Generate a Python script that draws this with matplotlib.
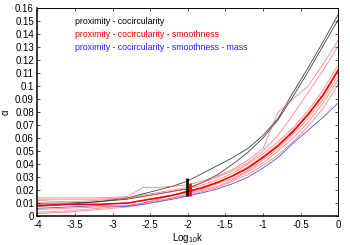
import matplotlib

matplotlib.use("Agg")
import matplotlib.pyplot as plt
from matplotlib.ticker import FuncFormatter, MultipleLocator


# log10(k) sample points shared by every run
LOG_K = [-4.0, -3.6, -3.2, -2.8, -2.6, -2.4, -2.2, -2.0, -1.8,
         -1.6, -1.4, -1.2, -1.0, -0.8, -0.6, -0.4, -0.2, 0.0]

# proximity - cocircularity runs
PROX_COCIRC = [
    [0.0075, 0.009, 0.011, 0.014, 0.017, 0.020, 0.023, 0.027, 0.033,
     0.039, 0.045, 0.052, 0.062, 0.075, 0.095, 0.114, 0.134, 0.155],
    [0.010, 0.010, 0.011, 0.013, 0.015, 0.017, 0.019, 0.021, 0.026,
     0.032, 0.040, 0.049, 0.060, 0.074, 0.092, 0.111, 0.131, 0.151],
]

# proximity - cocircularity - smoothness runs
PROX_COCIRC_SMOOTH = [
    [0.014, 0.014, 0.014, 0.015, 0.022, 0.022, 0.023, 0.024, 0.027,
     0.031, 0.036, 0.043, 0.052, 0.080, 0.090, 0.100, 0.117, 0.135],
    [0.012, 0.011, 0.012, 0.014, 0.016, 0.018, 0.020, 0.022, 0.026,
     0.030, 0.035, 0.041, 0.050, 0.062, 0.078, 0.095, 0.112, 0.131],
    [0.013, 0.013, 0.013, 0.014, 0.015, 0.017, 0.019, 0.021, 0.024,
     0.028, 0.033, 0.040, 0.048, 0.057, 0.068, 0.081, 0.097, 0.116],
    [0.003, 0.004, 0.006, 0.008, 0.010, 0.013, 0.016, 0.019, 0.022,
     0.026, 0.031, 0.038, 0.046, 0.055, 0.066, 0.079, 0.094, 0.113],
    [0.009, 0.009, 0.009, 0.010, 0.012, 0.014, 0.016, 0.018, 0.021,
     0.025, 0.029, 0.035, 0.043, 0.052, 0.063, 0.075, 0.090, 0.108],
    [0.002, 0.003, 0.005, 0.007, 0.009, 0.011, 0.014, 0.017, 0.020,
     0.023, 0.028, 0.034, 0.041, 0.050, 0.060, 0.072, 0.087, 0.105],
    [0.005, 0.006, 0.007, 0.008, 0.010, 0.012, 0.014, 0.016, 0.019,
     0.022, 0.027, 0.032, 0.039, 0.047, 0.057, 0.069, 0.083, 0.101],
]
SMOOTH_MEAN = [0.008, 0.009, 0.009, 0.010, 0.012, 0.014, 0.016, 0.019, 0.022,
               0.026, 0.031, 0.037, 0.045, 0.054, 0.065, 0.078, 0.093, 0.112]

# proximity - cocircularity - smoothness - mass
PROX_COCIRC_SMOOTH_MASS = [0.006, 0.007, 0.008, 0.0075, 0.009, 0.011, 0.013, 0.0155, 0.018,
                           0.021, 0.025, 0.030, 0.037, 0.045, 0.056, 0.066, 0.076, 0.087]

# spread bars at log10(k) = -2
BAR_X = [-2.007, -1.97]
BAR_LOW = [0.0156, 0.0158]
BAR_HIGH = [0.029, 0.0252]
BAR_COLORS = ["black", "red"]

LABELS = [
    "proximity - cocircularity",
    "proximity - cocircularity - smoothness",
    "proximity - cocircularity - smoothness - mass",
]
LABEL_COLORS = ["black", "#ff0000", "#2020ff"]


def setup_style() -> None:
    plt.rcParams["font.family"] = ["Liberation Sans", "DejaVu Sans"]
    plt.rcParams["font.size"] = 7
    plt.rcParams["mathtext.default"] = "regular"


def main() -> None:
    setup_style()

    fig = plt.figure(figsize=(3.5, 2.45), dpi=100)
    ax = fig.add_axes([0.107, 0.118, 0.859, 0.849])

    for series in PROX_COCIRC:
        ax.plot(LOG_K, series, color="#202020", linewidth=0.6, alpha=0.85)

    for series in PROX_COCIRC_SMOOTH:
        ax.plot(LOG_K, series, color="#ff5050", linewidth=0.6, alpha=0.7)

    ax.plot(LOG_K, SMOOTH_MEAN, color="#ff0000", linewidth=1.2)
    ax.plot(LOG_K, PROX_COCIRC_SMOOTH_MASS, color="#5050ff", linewidth=0.6)

    ax.vlines(BAR_X, BAR_LOW, BAR_HIGH, colors=BAR_COLORS, linewidth=1.9)

    for i, (label, color) in enumerate(zip(LABELS, LABEL_COLORS)):
        ax.text(0.125, 0.9375 - 0.0625 * i, label, color=color,
                transform=ax.transAxes, va="center", ha="left", fontsize=6.3)

    ax.set_xlim(-4, 0)
    ax.set_ylim(0, 0.16)
    ax.xaxis.set_major_locator(MultipleLocator(0.5))
    ax.yaxis.set_major_locator(MultipleLocator(0.01))
    ax.xaxis.set_major_formatter(FuncFormatter(lambda v, p: f"{v:g}"))
    ax.yaxis.set_major_formatter(FuncFormatter(lambda v, p: f"{round(v, 2):g}"))

    ax.tick_params(direction="in", length=2.3, width=0.5, pad=2.5,
                   top=True, right=True, labelsize=7)
    for side in ["left", "bottom"]:
        ax.spines[side].set_linewidth(1.1)
    for side in ["top", "right"]:
        ax.spines[side].set_linewidth(0.7)

    ax.set_xlabel("Log$_{10}$k", fontsize=7, labelpad=1)
    ax.set_ylabel("α", fontsize=7, labelpad=3)

    fig.savefig("out.png", dpi=100)
    plt.close(fig)


if __name__ == "__main__":
    main()
